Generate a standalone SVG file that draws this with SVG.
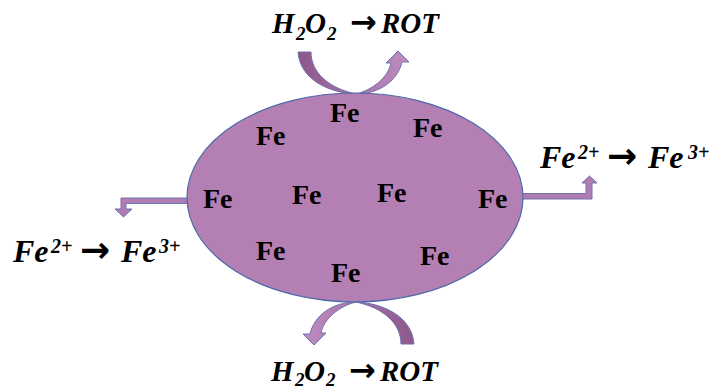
<svg xmlns="http://www.w3.org/2000/svg" width="713" height="392" viewBox="0 0 713 392">
<style>
.fe{font-family:"Liberation Serif","Times New Roman",serif;font-weight:bold;font-size:28px;fill:#000}
.eq{font-family:"Liberation Serif","Times New Roman",serif;font-weight:bold;font-style:italic;fill:#000}
.ar{font-family:"DejaVu Sans",sans-serif;font-style:normal;font-weight:bold}
.band{stroke:#6E72AE;stroke-width:1}
</style>
<defs>
<linearGradient id="g1" gradientUnits="userSpaceOnUse" x1="298" y1="0" x2="409" y2="0">
<stop offset="0" stop-color="#8C578B"/>
<stop offset="1" stop-color="#C08DC2"/>
</linearGradient>
<path id="uarrow" d="M298,52 L311,52 C311,72 328,88 356,94 C372,90 388,78 391,63 L386,63 L398,51 L409,62 L402,62 C398,80 380,94 356,94 C330,93 300,80 298,52 Z"/>
</defs>
<rect width="713" height="392" fill="#fff"/>
<g id="connectors">
<use href="#uarrow" fill="url(#g1)" class="band"/>
<use href="#uarrow" fill="url(#g1)" class="band" transform="rotate(180 356 198)"/>
<path d="M521,193.5 L586,193.5 L586,183 L582,183 L589.5,176 L597,183 L592,183 L592,199 L521,199 Z" fill="#B07DB2" class="band"/>
<path d="M189,198 L121,198 L121,209 L115,209 L123.5,217 L132,209 L126,209 L126,203.5 L189,203.5 Z" fill="#B07DB2" class="band"/>
</g>
<g id="particle">
<ellipse cx="355" cy="197.5" rx="168" ry="104.5" fill="#B47FB2" stroke="#4B6AAA" stroke-width="1.2"/>
<text class="fe" x="330" y="122">Fe</text>
<text class="fe" x="256" y="145">Fe</text>
<text class="fe" x="413" y="137">Fe</text>
<text class="fe" x="203" y="208">Fe</text>
<text class="fe" x="292" y="204">Fe</text>
<text class="fe" x="377" y="202">Fe</text>
<text class="fe" x="478" y="208">Fe</text>
<text class="fe" x="256" y="260">Fe</text>
<text class="fe" x="420" y="265">Fe</text>
<text class="fe" x="331" y="282">Fe</text>
</g>
<g id="label-top">
<text class="eq" font-size="29" y="33"><tspan x="272">H</tspan><tspan x="296" font-size="19" dy="7">2</tspan><tspan x="305" dy="-7">O</tspan><tspan x="327" font-size="19" dy="7">2</tspan><tspan class="ar" font-size="32" x="350" dy="-7">→</tspan><tspan x="381">ROT</tspan></text>
</g>
<g id="label-bottom">
<text class="eq" font-size="29" y="381"><tspan x="271">H</tspan><tspan x="295" font-size="19" dy="5">2</tspan><tspan x="304" dy="-5">O</tspan><tspan x="326" font-size="19" dy="5">2</tspan><tspan class="ar" font-size="32" x="349" dy="-5">→</tspan><tspan x="380">ROT</tspan></text>
</g>
<g id="label-right">
<text class="eq" font-size="32" y="168"><tspan x="540">Fe</tspan><tspan x="578" font-size="20" dy="-9">2+</tspan><tspan class="ar" font-size="36" x="607" dy="9">→</tspan><tspan x="648">Fe</tspan><tspan x="688" font-size="20" dy="-9">3+</tspan></text>
</g>
<g id="label-left">
<text class="eq" font-size="32" y="262"><tspan x="13">Fe</tspan><tspan x="51" font-size="20" dy="-9">2+</tspan><tspan class="ar" font-size="36" x="80" dy="9">→</tspan><tspan x="121">Fe</tspan><tspan x="159" font-size="20" dy="-9">3+</tspan></text>
</g>
</svg>
